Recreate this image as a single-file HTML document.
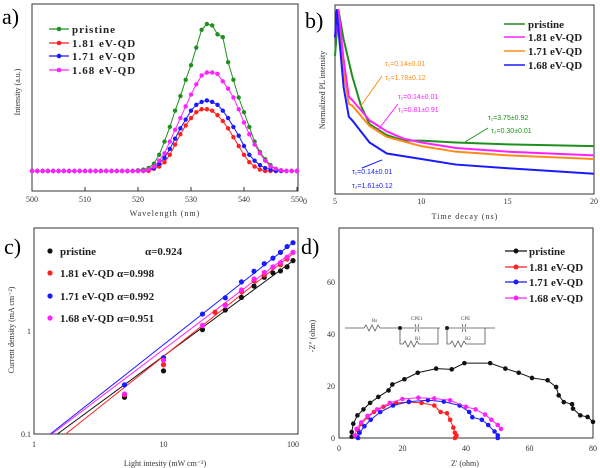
<!DOCTYPE html>
<html><head><meta charset="utf-8"><style>
html,body{margin:0;padding:0;background:#fff;}
svg{display:block;font-family:"Liberation Serif",serif;}
.t{font-size:8px;fill:#333;}
.lg{font-size:11px;font-weight:bold;fill:#222;}
</style></head><body>
<svg id="fig" width="600" height="468" viewBox="0 0 600 468">
<g id="pa"></g>
<g id="pb"></g>
<g id="pc"></g>
<g id="pd"></g>
</svg>
<script>
// ---------- data ----------
const seriesNames=["pristine","1.81 eV-QD","1.71 eV-QD","1.68 eV-QD"];
const aWave=[];for(let w=500;w<=550;w++)aWave.push(w);
const aPristine=[0,0,0,0,0,0,0,0,0,0,0,0,0,0,0,0,0,0,0,0,0.005,0.01,0.02,0.05,0.11,0.2,0.3,0.41,0.51,0.62,0.72,0.84,0.96,1.0,0.99,0.93,0.91,0.74,0.62,0.5,0.4,0.3,0.2,0.13,0.08,0.04,0.015,0.005,0,0,0];
const aRed=[0,0,0,0,0,0,0,0,0,0,0,0,0,0,0,0,0,0,0,0,0,0,0,0.015,0.03,0.06,0.11,0.18,0.25,0.31,0.36,0.4,0.42,0.42,0.41,0.38,0.34,0.29,0.23,0.17,0.11,0.06,0.03,0.01,0,0,0,0,0,0,0];
const aBlue=[0,0,0,0,0,0,0,0,0,0,0,0,0,0,0,0,0,0,0,0,0,0,0.01,0.02,0.05,0.09,0.15,0.22,0.29,0.35,0.41,0.45,0.47,0.48,0.47,0.45,0.41,0.36,0.3,0.24,0.17,0.11,0.07,0.04,0.02,0.01,0,0,0,0,0];
const aPink=[0,0,0,0,0,0,0,0,0,0,0,0,0,0,0,0,0,0,0,0,0,0,0.01,0.03,0.07,0.12,0.2,0.28,0.36,0.44,0.52,0.59,0.65,0.67,0.67,0.66,0.61,0.56,0.5,0.42,0.33,0.25,0.18,0.12,0.07,0.03,0.015,0.005,0,0,0];
const aTicks=[500,510,520,530,540,550];
const bGreenT=[5,5.2,5.5,6,6.5,7,8,9,10,12,15,20];
const bGreenV=[0.75,1.0,0.84,0.64,0.48,0.38,0.32,0.29,0.29,0.28,0.27,0.26];
const bPinkT=[5,5.2,5.5,5.8,6,7,8,9,10,12,15,20];
const bPinkV=[0.85,1.0,0.73,0.53,0.51,0.40,0.34,0.30,0.28,0.25,0.23,0.21];
const bOrangeT=[5,5.2,5.5,5.8,6,7,8,10,12,15,20];
const bOrangeV=[0.85,1.0,0.66,0.49,0.48,0.37,0.31,0.26,0.23,0.21,0.19];
const bBlueT=[5,5.1,5.5,5.8,6,7,8,10,12,15,20];
const bBlueV=[0.85,1.0,0.58,0.42,0.40,0.28,0.22,0.19,0.16,0.14,0.11];
const bTicks=[5,10,15,20];
const cX=[5,10,20,30,40,50,60,70,80,90,100];
const cPristine=[0.227,0.41,1.03,1.6,2.12,2.73,3.32,3.66,3.83,4.2,4.82];
const cRedX=[5,10,20,25,30,40,50,60,70,80,90,100];
const cRed=[0.24,0.47,1.13,1.52,1.79,2.42,3.08,3.5,4.14,4.4,5.0,5.8];
const cBlue=[0.30,0.55,1.46,2.1,3.0,3.8,4.5,5.1,5.8,6.6,7.2];
const cPink=[0.245,0.52,1.13,1.76,2.5,3.2,3.7,4.2,4.6,5.2,5.8];
const cAlpha=[0.924,0.998,0.992,0.951];
const cFitA=[0.068,0.057,0.075,0.074];
const dPristine=[[4,0.5],[4,2.3],[4.5,5.5],[5.8,8.7],[7.7,11],[9.8,13.5],[12.4,15.8],[15.6,18.3],[16.8,20.6],[20.6,22.6],[24.8,25.1],[30.6,26.7],[35.5,26.4],[39.5,28.8],[47.6,28.8],[52.4,26.7],[56.6,25.1],[60.8,23.1],[65.7,22.2],[68.4,19.6],[69.2,16.4],[70.8,13.8],[73.4,13],[73.7,11.3],[76,8.7],[78.3,8.1],[80,6.2]];
const dRed=[[5.5,0.5],[6,3],[7,5.5],[9,8],[11,10],[14,12],[18,13.5],[22,13.8],[26,13.5],[30,12.5],[32,10],[34,9.5],[35,7],[36,4],[36.5,2],[37,1],[36.5,0]];
const dBlue=[[6,0],[6.5,2],[8,4.5],[10,7],[13,10],[17,12.5],[22,14],[28,14.5],[33,14],[38,12.5],[41,10],[42,8],[45,7],[47,5],[49,2.5],[50,1],[50,0]];
const dPink=[[5,1],[5.5,3.5],[7,6],[9,8.5],[12,11],[16,13.5],[20,15],[25,15.5],[30,15.2],[35,14.5],[40,12],[43,11],[46,9],[48,7],[50,5],[51,3.5]];
const dXTicks=[0,20,40,60,80];
const dYTicks=[0,20,40,60];

const NS="http://www.w3.org/2000/svg";
function el(p,tag,attrs,txt){const e=document.createElementNS(NS,tag);for(const k in attrs)e.setAttribute(k,attrs[k]);if(txt!==undefined)e.textContent=txt;p.appendChild(e);return e;}
const G="#1f8f1f",R="#ff2020",B="#1a1aff",M="#ff22ff",O="#ff8c1a",K="#111";

(function(){
const g=document.getElementById('pa');
const x=w=>32+(w-500)*(265/50), y=v=>171-v*147;
const box=el(g,'rect',{x:32,y:4,width:266,height:187,fill:'none',stroke:'#333','stroke-width':1});


aTicks.forEach(t=>{const tl=el(g,'text',{x:x(t),y:202,'text-anchor':'middle',class:'t'},t);


el(g,'line',{x1:x(t),x2:x(t),y1:191,y2:187,stroke:'#333'});});
const xl=el(g,'text',{x:165,y:216,'text-anchor':'middle',class:'t','font-size':9,'letter-spacing':1},'Wavelength (nm)');


const yl=el(g,'text',{x:0,y:0,transform:'translate(20,92) rotate(-90)','text-anchor':'middle',class:'t','font-size':9},'Intensity (a.u.)');


const pl=el(g,'text',{x:2,y:24,'font-size':22},'a)');


const sets=[[aPristine,G],[aRed,R],[aBlue,B],[aPink,M]];
sets.forEach(([d,c],i)=>{
 const pts=d.map((v,j)=>x(aWave[j])+','+y(v)).join(' ');
 const ln=el(g,'polyline',{points:pts,fill:'none',stroke:c,'stroke-width':1});
 
 
 d.forEach((v,j)=>{const m=el(g,'circle',{cx:x(aWave[j]),cy:y(v),r:2.2,fill:c});
 
 });
});
const ly=[29,43,56,70];
[G,R,B,M].forEach((c,i)=>{
 el(g,'line',{x1:49,x2:69,y1:ly[i],y2:ly[i],stroke:c,'stroke-width':1.2});
 el(g,'circle',{cx:59,cy:ly[i],r:2.3,fill:c});
 const t=el(g,'text',{x:72,y:ly[i]+4,class:'lg','letter-spacing':1},seriesNames[i]);
 
 
});
})();

(function(){
const g=document.getElementById('pb');
const x=t=>335+(t-5)*(259/15), y=v=>194-v*184;
const box=el(g,'rect',{x:335,y:5,width:259,height:189,fill:'none',stroke:'#333'});


bTicks.forEach(t=>{const tl=el(g,'text',{x:x(t),y:204,'text-anchor':'middle',class:'t'},t);

});
el(g,'text',{x:303,y:204,class:'t'},'0');
const xl=el(g,'text',{x:465,y:219,'text-anchor':'middle',class:'t','font-size':9,'letter-spacing':1},'Time decay (ns)');


const yl=el(g,'text',{x:0,y:0,transform:'translate(325,90) rotate(-90)','text-anchor':'middle',class:'t','font-size':10},'Normalized PL intensity');


const pl=el(g,'text',{x:305,y:28,'font-size':22},'b)');


const sets=[[bGreenT,bGreenV,G],[bOrangeT,bOrangeV,O],[bPinkT,bPinkV,M],[bBlueT,bBlueV,B]];
sets.forEach(([T,V,c],i)=>{
 const pts=T.map((t,j)=>x(t)+','+y(V[j])).join(' ');
 const ln=el(g,'polyline',{points:pts,fill:'none',stroke:c,'stroke-width':2,'stroke-linejoin':'round'});
 
 
});
const lg=[[G,'pristine'],[M,'1.81 eV-QD'],[O,'1.71 eV-QD'],[B,'1.68 eV-QD']];
const ly=[24,37,51,65];
lg.forEach(([c,n],i)=>{
 el(g,'line',{x1:504,x2:525,y1:ly[i],y2:ly[i],stroke:c,'stroke-width':1.5});
 const t=el(g,'text',{x:528,y:ly[i]+4,class:'lg'},n);
 
 
});
const ann=[[385,66,O,'τ₁=0.14±0.01'],[385,80,O,'τ₂=1.78±0.12'],[398,99,M,'τ₁=0.14±0.01'],[398,112,M,'τ₂=0.81±0.91'],[488,120,G,'τ₁=3.75±0.92'],[491,133,G,'τ₂=0.30±0.01'],[352,174,B,'τ₁=0.14±0.01'],[352,188,B,'τ₂=1.61±0.12']];
ann.forEach(([ax,ay,c,s])=>{const t=el(g,'text',{x:ax,y:ay,fill:c,'font-size':7,'font-family':'Liberation Sans,sans-serif'},s);

});
el(g,'line',{x1:360,y1:107,x2:382,y2:76,stroke:O});
el(g,'line',{x1:378,y1:130,x2:398,y2:104,stroke:M});
el(g,'line',{x1:465,y1:142,x2:488,y2:128,stroke:G});
el(g,'line',{x1:382,y1:160,x2:362,y2:168,stroke:B});
})();

(function(){
const g=document.getElementById('pc');
const x=v=>34+Math.log10(v)*129.5, y=v=>434-(Math.log10(v)+1)*103;
const box=el(g,'rect',{x:34,y:228,width:264,height:206,fill:'none',stroke:'#333'});


[1,10,100].forEach(t=>{const tl=el(g,'text',{x:x(t),y:447,'text-anchor':'middle',class:'t'},t);

});
[[0.1,'0.1'],[1,'1']].forEach(([v,s])=>{const tl=el(g,'text',{x:31,y:y(v)+3,'text-anchor':'end',class:'t'},s);

});
const xl=el(g,'text',{x:165,y:466,'text-anchor':'middle',class:'t','font-size':9.5},'Light intesity (mW cm⁻²)');


const yl=el(g,'text',{x:0,y:0,transform:'translate(14,330) rotate(-90)','text-anchor':'middle',class:'t','font-size':10},'Current density (mA cm⁻²)');


const pl=el(g,'text',{x:4,y:254,'font-size':22},'c)');


const cols=[K,R,B,M];
cols.forEach((c,i)=>{
 const x0=Math.pow(0.1/cFitA[i],1/cAlpha[i]);
 const ln=el(g,'line',{x1:x(x0),y1:y(0.1),x2:x(100),y2:y(cFitA[i]*Math.pow(100,cAlpha[i])),stroke:c,'stroke-width':1});
 
 
});
const sets=[[cX,cPristine,K],[cRedX,cRed,R],[cX,cBlue,B],[cX,cPink,M]];
sets.forEach(([X,V,c])=>{V.forEach((v,j)=>{const m=el(g,'circle',{cx:x(X[j]),cy:y(v),r:2.6,fill:c});

});});
const ly=[251,273,296,318];
cols.forEach((c,i)=>{
 el(g,'circle',{cx:50,cy:ly[i],r:2.6,fill:c});
 const t=el(g,'text',{x:60,y:ly[i]+4,class:'lg'},seriesNames[i]);
 
 
 const a=el(g,'text',{x:i==0?145:117,y:ly[i]+4,class:'lg'},'α='+cAlpha[i].toFixed(3));
 
 
});
})();

(function(){
const g=document.getElementById('pd');
const x=v=>339+v*(254/80), y=v=>438-v*2.6;
const box=el(g,'rect',{x:339,y:228,width:254,height:210,fill:'none',stroke:'#333'});


dXTicks.forEach(t=>{const tl=el(g,'text',{x:x(t),y:451,'text-anchor':'middle',class:'t'},t);

});
dYTicks.forEach(t=>{const tl=el(g,'text',{x:335,y:y(t)+3,'text-anchor':'end',class:'t'},t);

});
const xl=el(g,'text',{x:465,y:466,'text-anchor':'middle',class:'t','font-size':10},"Z' (ohm)");


const yl=el(g,'text',{x:0,y:0,transform:'translate(315,336) rotate(-90)','text-anchor':'middle',class:'t','font-size':10},'-Z" (ohm)');


const pl=el(g,'text',{x:301,y:254,'font-size':22},'d)');


const sets=[[dPristine,K],[dRed,R],[dBlue,B],[dPink,M]];
sets.forEach(([d,c],i)=>{
 const ln=el(g,'polyline',{points:d.map(p=>x(p[0])+','+y(p[1])).join(' '),fill:'none',stroke:c,'stroke-width':1});
 
 
 d.forEach(p=>{const m=el(g,'circle',{cx:x(p[0]),cy:y(p[1]),r:2.3,fill:c});
 
 });
});
const ly=[251,267,282,298];
[K,R,B,M].forEach((c,i)=>{
 el(g,'line',{x1:505,x2:527,y1:ly[i],y2:ly[i],stroke:c,'stroke-width':1.2});
 el(g,'circle',{cx:516,cy:ly[i],r:2.5,fill:c});
 const t=el(g,'text',{x:529,y:ly[i]+4,class:'lg'},seriesNames[i]);
 
 
});
const cg=el(g,'g',{stroke:'#555',fill:'none','stroke-width':0.8});


el(cg,'path',{d:'M345,328 H364 l2,-3 l3,6 l3,-6 l3,6 l3,-6 l2,3 H400 H415 M419,328 H440 M400,328 V344 H403 l2,-3 l3,6 l3,-6 l3,6 l3,-6 l2,3 H438 V328 M447,328 H462 M466,328 H495 M447,328 V344 H450 l2,-3 l3,6 l3,-6 l3,6 l3,-6 l2,3 H485 V328'});
el(cg,'path',{d:'M415,324 q2,4 0,8 M419,324 q-2,4 0,8 M462,324 q2,4 0,8 M466,324 q-2,4 0,8'});
el(g,'circle',{cx:400,cy:328,r:2,fill:'#222'});
el(g,'circle',{cx:447,cy:328,r:2,fill:'#222'});
[[372,322,'Rs'],[411,320,'CPE1'],[415,340,'R1'],[461,320,'CPE'],[465,340,'R2']].forEach(([a,b,s])=>{const t=el(g,'text',{x:a,y:b,'font-size':5,fill:'#444'},s);

});
})();
</script>
</body></html>
